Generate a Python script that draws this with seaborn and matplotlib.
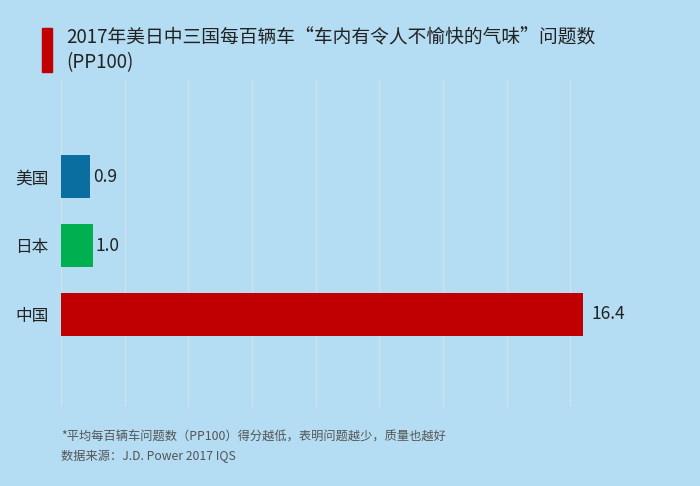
import matplotlib.pyplot as plt
import seaborn as sns
import pandas as pd

# データ
countries = ["美国", "日本", "中国"]
pp100 = [0.9, 1.0, 16.4]
bar_colors = ["#0a6fa0", "#00b050", "#c00000"]
title = "2017年美日中三国每百辆车“车内有令人不愉快的气味”问题数\n(PP100)"
note1 = "*平均每百辆车问题数（PP100）得分越低，表明问题越少，质量也越好"
note2 = "数据来源：J.D. Power 2017 IQS"

bg = "#b4dcf2"
sns.set_theme(style="white")
plt.rcParams["font.family"] = ["Noto Sans CJK SC", "DejaVu Sans"]

df = pd.DataFrame({"country": countries, "value": pp100})

fig = plt.figure(figsize=(7, 4.86), dpi=100, facecolor=bg)
ax = fig.add_axes([0.087, 0.163, 0.819, 0.672])
ax.set_facecolor(bg)

sns.barplot(data=df, x="value", y="country", hue="country", palette=bar_colors,
            width=0.62, legend=False, ax=ax, saturation=1, linewidth=0)

ax.set_xlim(0, 18)
ax.set_ylim(3.34, -1.40)
ax.set_xticks(range(0, 19, 2))
ax.xaxis.grid(True, color="#d0e2ec", linewidth=1)
ax.set_axisbelow(True)
ax.tick_params(axis="x", bottom=False, labelbottom=False)
ax.tick_params(axis="y", left=False, length=0, labelsize=12, pad=9, labelcolor="#222222")
ax.set_xlabel("")
ax.set_ylabel("")
for s in ax.spines.values():
    s.set_visible(False)

# 数値ラベル
for i, v in enumerate(pp100):
    pad = 0.1 if v < 5 else 0.25
    ax.text(v + pad, i, f"{v:.1f}", va="center", ha="left", fontsize=12.5,
            color="#222222", fontweight="medium")

# タイトル
fig.patches.append(plt.Rectangle((42 / 700, 1 - 72 / 486), 10 / 700, 44 / 486,
                                 transform=fig.transFigure, color="#c00000"))
fig.text(66 / 700, 1 - 50 / 486, title, fontsize=13.5, color="#222222",
         va="center", ha="left", linespacing=1.25, fontweight="medium")

# 注記
fig.text(61 / 700, 1 - 437 / 486, note1, fontsize=8.8, color="#555555",
         style="italic", va="center")
fig.text(61 / 700, 1 - 456 / 486, note2, fontsize=8.8, color="#555555",
         style="italic", va="center")

plt.savefig("out.png", dpi=100, facecolor=bg)
